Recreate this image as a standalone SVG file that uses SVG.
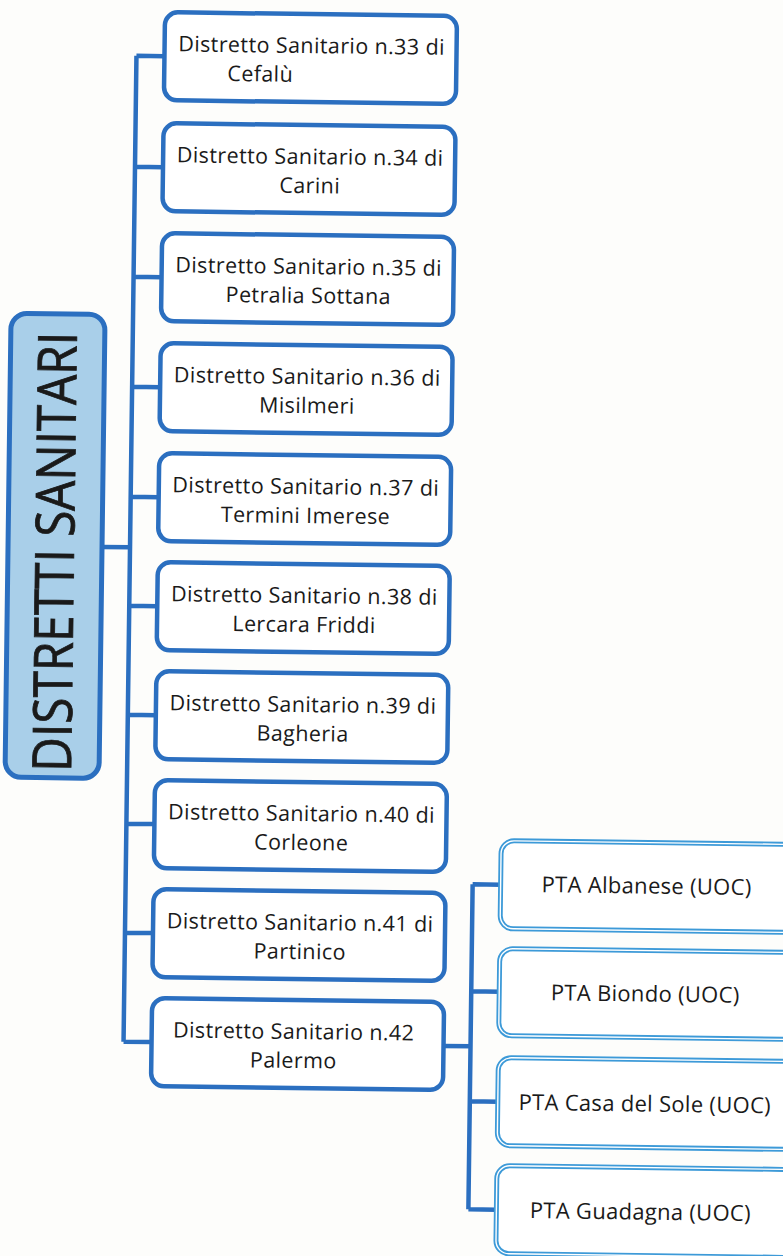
<svg xmlns="http://www.w3.org/2000/svg" width="783" height="1256" viewBox="0 0 783 1256">
<style>
.bg{fill:#fdfdfb}
.box{fill:#ffffff;stroke:#2b6fc0;stroke-width:4.5}
.main{fill:#a9cfe9;stroke:#2b6fc0;stroke-width:5}
.pta{fill:#ffffff;stroke:#3d9ad8;stroke-width:5}
.ptain{fill:none;stroke:#ffffff;stroke-width:1.4}
.t{font-family:"Open Sans",Lato,"Liberation Sans",sans-serif;font-size:21.5px;letter-spacing:0.4px;fill:#1a1a1a;text-anchor:middle;font-variant-ligatures:none}
.tp{font-family:"Open Sans",Lato,"Liberation Sans",sans-serif;font-size:22px;letter-spacing:0.3px;fill:#1a1a1a;text-anchor:middle}
.tm{font-family:"Open Sans",Lato,"Liberation Sans",sans-serif;font-size:54px;fill:#1a1a1a;stroke:#1a1a1a;stroke-width:0.8;text-anchor:middle}
.ln{fill:none;stroke:#2b6fc0;stroke-width:4.5}
</style>
<rect class="bg" x="0" y="0" width="783" height="1256"/>
<g transform="rotate(0.75 300 550)">
<g id="connectors">
<path class="ln" d="M102 549.5 H130 M130 58 V1044 M130 58 H158 M130 169 H158 M130 279 H158 M130 389 H158 M130 499 H158 M130 608 H158 M130 717 H158 M130 826 H158 M130 935 H158 M130 1044 H158"/>
<path class="ln" d="M450 1044 H477 M477 882 V1207 M477 882 H505 M477 989 H505 M477 1099 H505 M477 1207 H505"/>
</g>
<g id="main">
<rect class="main" x="8" y="317" width="94" height="464" rx="16"/>
<text class="tm" transform="translate(74 555) rotate(-90)" x="0" y="0" textLength="440" lengthAdjust="spacingAndGlyphs">DISTRETTI SANITARI</text>
</g>
<g id="d33"><rect class="box" x="158" y="14" width="292" height="88" rx="13"/>
<text class="t" x="305" y="53">Distretto Sanitario n.33 di</text><text class="t" x="254" y="82">Cefalù</text></g>
<g id="d34"><rect class="box" x="158" y="125" width="292" height="88" rx="13"/>
<text class="t" x="305" y="164">Distretto Sanitario n.34 di</text><text class="t" x="305" y="193">Carini</text></g>
<g id="d35"><rect class="box" x="158" y="235" width="292" height="88" rx="13"/>
<text class="t" x="305" y="274">Distretto Sanitario n.35 di</text><text class="t" x="305" y="303">Petralia Sottana</text></g>
<g id="d36"><rect class="box" x="158" y="345" width="292" height="88" rx="13"/>
<text class="t" x="305" y="384">Distretto Sanitario n.36 di</text><text class="t" x="305" y="413">Misilmeri</text></g>
<g id="d37"><rect class="box" x="158" y="455" width="292" height="88" rx="13"/>
<text class="t" x="305" y="494">Distretto Sanitario n.37 di</text><text class="t" x="305" y="523">Termini Imerese</text></g>
<g id="d38"><rect class="box" x="158" y="564" width="292" height="88" rx="13"/>
<text class="t" x="305" y="603">Distretto Sanitario n.38 di</text><text class="t" x="305" y="632">Lercara Friddi</text></g>
<g id="d39"><rect class="box" x="158" y="673" width="292" height="88" rx="13"/>
<text class="t" x="305" y="712">Distretto Sanitario n.39 di</text><text class="t" x="305" y="741">Bagheria</text></g>
<g id="d40"><rect class="box" x="158" y="782" width="292" height="88" rx="13"/>
<text class="t" x="305" y="821">Distretto Sanitario n.40 di</text><text class="t" x="305" y="850">Corleone</text></g>
<g id="d41"><rect class="box" x="158" y="891" width="292" height="88" rx="13"/>
<text class="t" x="305" y="930">Distretto Sanitario n.41 di</text><text class="t" x="305" y="959">Partinico</text></g>
<g id="d42"><rect class="box" x="158" y="1000" width="292" height="88" rx="13"/>
<text class="t" x="300" y="1039">Distretto Sanitario n.42</text><text class="t" x="300" y="1068">Palermo</text></g>
<g id="pta1"><rect class="pta" x="505" y="838" width="300" height="88" rx="13"/><rect class="ptain" x="505" y="838" width="300" height="88" rx="13"/>
<text class="tp" x="651" y="889">PTA Albanese (UOC)</text></g>
<g id="pta2"><rect class="pta" x="505" y="946" width="300" height="87" rx="13"/><rect class="ptain" x="505" y="946" width="300" height="87" rx="13"/>
<text class="tp" x="651" y="997">PTA Biondo (UOC)</text></g>
<g id="pta3"><rect class="pta" x="505" y="1055" width="300" height="88" rx="13"/><rect class="ptain" x="505" y="1055" width="300" height="88" rx="13"/>
<text class="tp" x="652" y="1107">PTA Casa del Sole (UOC)</text></g>
<g id="pta4"><rect class="pta" x="505" y="1163" width="300" height="88" rx="13"/><rect class="ptain" x="505" y="1163" width="300" height="88" rx="13"/>
<text class="tp" x="649" y="1215">PTA Guadagna (UOC)</text></g>
</g>
</svg>
